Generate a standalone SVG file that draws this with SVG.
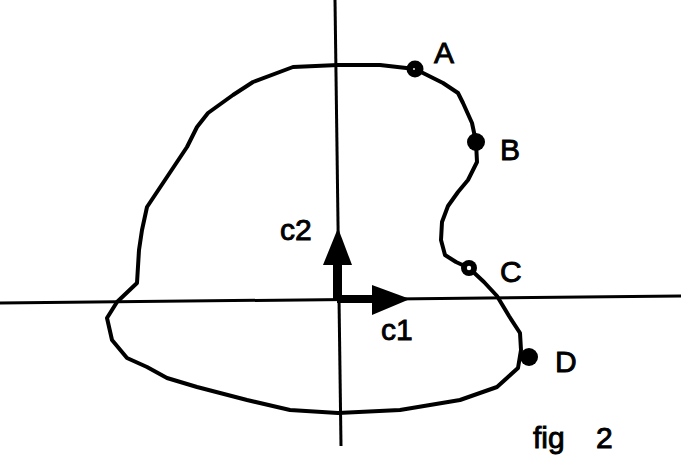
<svg xmlns="http://www.w3.org/2000/svg" width="681" height="462" viewBox="0 0 681 462">
<style>
.axis{stroke:#000;stroke-width:3;fill:none}
.curve{stroke:#000;stroke-width:4;fill:none;stroke-linejoin:round}
.lbl{font-family:"Liberation Sans",Arial,sans-serif;font-size:30px;fill:#000;stroke:#000;stroke-width:0.9}
.dot{fill:#000}
.hole{fill:#fff}
</style>
<rect width="681" height="462" fill="#fff"/>
<g id="axes">
<line class="axis" x1="0" y1="303" x2="681" y2="296"/>
<line class="axis" x1="335" y1="0" x2="341" y2="446"/>
</g>
<g id="contour">
<path class="curve" d="M415,69 L427,75 L443,83 L458,93 L463,103 L472,123 L476,142 L477,162 L468,180 L458,192 L448,206 L442,222 L441,240 L445,255 L456,262 L469,268 L484,282 L497,296 L509,316 L520,333 L521,350 L518,368 L497,387 L460,400 L400,410 L338,413 L290,410 L247,400 L197,387 L167,378 L147,367 L127,358 L112,340 L107,318 L117,302 L137,283 L139,250 L142,230 L147,207 L187,147 L197,127 L208,113 L233,95 L253,82 L293,67 L338,65 L380,65 Z"/>
</g>
<g id="connectors">
<g id="arrow-c2">
<rect x="333" y="260" width="9" height="41" fill="#000"/>
<polygon points="338,228 323,265 352,265" fill="#000"/>
</g>
<g id="arrow-c1">
<rect x="337" y="295" width="37" height="8" fill="#000"/>
<polygon points="372,285 410,299 372,315" fill="#000"/>
</g>
</g>
<g id="node-A">
<circle class="dot" cx="415" cy="69" r="8.5"/>
<circle class="hole" cx="414" cy="69" r="0.9"/>
<text class="lbl" x="434" y="63">A</text>
</g>
<g id="node-B">
<circle class="dot" cx="476" cy="142" r="9"/>
<text class="lbl" x="500" y="160">B</text>
</g>
<g id="node-C">
<circle class="dot" cx="469" cy="268" r="8"/>
<circle class="hole" cx="469" cy="268" r="2.2"/>
<text class="lbl" x="500" y="282">C</text>
</g>
<g id="node-D">
<circle class="dot" cx="529" cy="357" r="9"/>
<text class="lbl" x="555" y="372">D</text>
</g>
<g id="labels">
<text class="lbl" x="280" y="240">c2</text>
<text class="lbl" x="381" y="340">c1</text>
<text class="lbl" x="533" y="448">fig<tspan x="596">2</tspan></text>
</g>
</svg>
